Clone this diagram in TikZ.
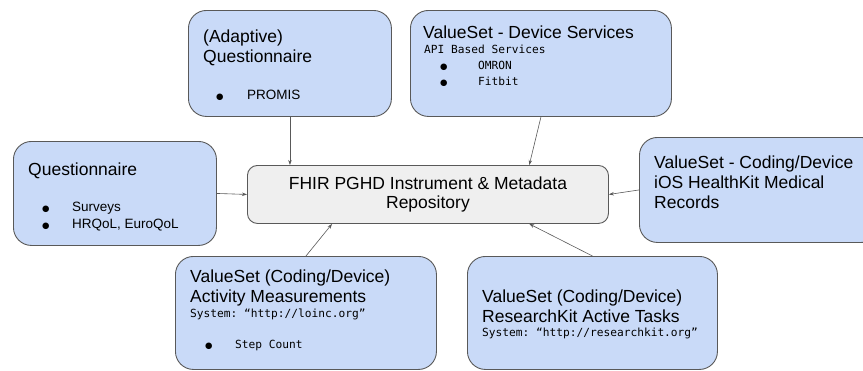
\documentclass[tikz,border=0pt]{standalone}
\usepackage{fontspec}
\setmainfont{Liberation Sans}
\setmonofont{DejaVu Sans Mono}
\newfontfamily\bulletfont{DejaVu Sans}
\usetikzlibrary{arrows.meta,calc}

\definecolor{boxblue}{HTML}{C9DAF8}
\definecolor{boxgray}{HTML}{EFEFEF}
\definecolor{linegray}{HTML}{595959}

\newcommand{\blt}{{\bulletfont\fontsize{8.5}{10}\selectfont ●}}

\begin{document}
\begin{tikzpicture}[x=1pt,y=-1pt,->,>={Stealth[length=5pt,width=3.5pt]},draw=linegray]
    \tikzstyle{box}=[draw=linegray,fill=boxblue,line width=0.9pt,rounded corners=18pt,anchor=north west,inner sep=0pt]
    \tikzstyle{repobox}=[box,fill=boxgray,rounded corners=10pt,align=center,font=\fontsize{17.5}{19}\selectfont]
    \tikzstyle{title}=[anchor=base west,align=left,inner sep=0pt,font=\fontsize{17.5}{20}\selectfont]
    \tikzstyle{item}=[anchor=base west,inner sep=0pt,font=\fontsize{13.5}{17}\selectfont]
    \tikzstyle{code}=[anchor=base west,inner sep=0pt,font=\fontsize{11.2}{16}\selectfont\ttfamily]
    \tikzstyle{dot}=[anchor=base west,inner sep=0pt]
    \tikzstyle{link}=[line width=0.6pt]

    \useasboundingbox (0,0) rectangle (863,370);

    % repository in the middle
    \node[repobox, minimum width=361pt, minimum height=58pt] (repo) at (247,165)
        {FHIR PGHD Instrument \& Metadata\\Repository};

    % source boxes
    \node[box, minimum width=203pt, minimum height=106pt] (adapt) at (188,10) {};
    \node[box, minimum width=261pt, minimum height=106pt] (devsvc) at (410,10) {};
    \node[box, minimum width=203pt, minimum height=104pt] (quest) at (13,141) {};
    \node[box, minimum width=240pt, minimum height=105pt] (coding) at (639,137) {};
    \node[box, minimum width=261pt, minimum height=113pt] (activity) at (175,256) {};
    \node[box, minimum width=250pt, minimum height=113pt] (rkit) at (467,256) {};

    % texts of the boxes (base of a title is its last line)
    \node[title] (adapt-t) at ($(adapt.north west)+(15,52)$) {(Adaptive)\\Questionnaire};
    \node[dot] (adapt-b1) at ($(adapt.north west)+(28,89)$) {\blt};
    \node[item] (adapt-i1) at ($(adapt.north west)+(59,89)$) {PROMIS};

    \node[title] (devsvc-t) at ($(devsvc.north west)+(13,28)$) {ValueSet - Device Services};
    \node[code] (devsvc-c) at ($(devsvc.north west)+(14,43)$) {API Based Services};
    \foreach \txt [count=\i] in {OMRON,Fitbit} {
        \node[dot] (devsvc-b\i) at ($(devsvc.north west)+(30,43+16*\i)$) {\blt};
        \node[code] (devsvc-i\i) at ($(devsvc.north west)+(68,43+16*\i)$) {\txt};
    }

    \node[title] (quest-t) at ($(quest.north west)+(15,34)$) {Questionnaire};
    \foreach \txt [count=\i] in {Surveys,{HRQoL, EuroQoL}} {
        \node[dot] (quest-b\i) at ($(quest.north west)+(29,53+17*\i)$) {\blt};
        \node[item] (quest-i\i) at ($(quest.north west)+(59,53+17*\i)$) {\txt};
    }

    \node[title] (coding-t) at ($(coding.north west)+(15,71)$)
        {ValueSet - Coding/Device\\iOS HealthKit Medical\\Records};

    \node[title] (activity-t) at ($(activity.north west)+(15,46)$)
        {ValueSet (Coding/Device)\\Activity Measurements};
    \node[code] (activity-c) at ($(activity.north west)+(15,61)$) {System: “http://loinc.org”};
    \node[dot] (activity-b1) at ($(activity.north west)+(30,92)$) {\blt};
    \node[code] (activity-i1) at ($(activity.north west)+(60,92)$) {Step Count};

    \node[title] (rkit-t) at ($(rkit.north west)+(15,66)$)
        {ValueSet (Coding/Device)\\ResearchKit Active Tasks};
    \node[code] (rkit-c) at ($(rkit.north west)+(15,80)$) {System: “http://researchkit.org”};

    % connect every source box with the repository
    \draw[link] (adapt.south) -- (adapt.south |- repo.north);
    \draw[link] (devsvc.south) -- ($(repo.north west)!0.78!(repo.north east)$);
    \draw[link] (quest.east) -- (repo.west);
    \draw[link] (coding.west) -- (repo.east);
    \draw[link] (activity.north) -- ($(repo.south west)!0.235!(repo.south east)$);
    \draw[link] (rkit.north) -- ($(repo.south west)!0.78!(repo.south east)$);
\end{tikzpicture}
\end{document}
